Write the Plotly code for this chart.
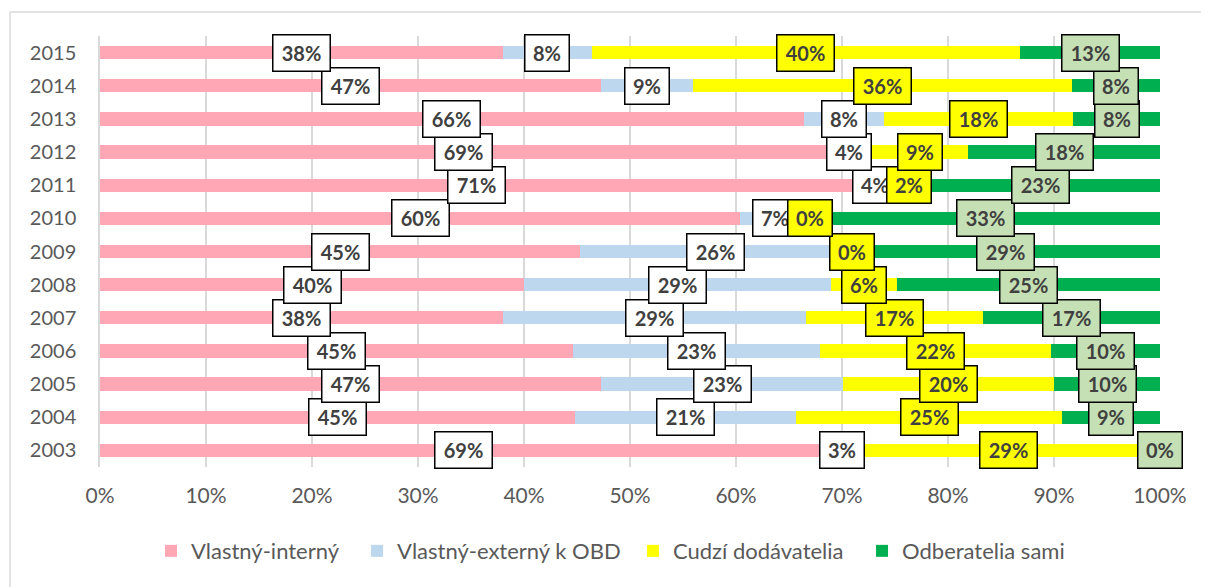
import plotly.graph_objects as go

years = [2003, 2004, 2005, 2006, 2007, 2008, 2009,
         2010, 2011, 2012, 2013, 2014, 2015]

series_names = ["Vlastný-interný", "Vlastný-externý k OBD",
                "Cudzí dodávatelia", "Odberatelia sami"]

vlastny_interny = [68.6, 44.8, 47.3, 44.6, 38.0, 40.0, 45.3, 60.4, 71.0, 68.6, 66.4, 47.3, 38.0]
vlastny_externy = [2.8, 20.9, 22.8, 23.3, 28.6, 29.0, 25.6, 6.6, 4.2, 4.2, 7.6, 8.6, 8.4]
cudzi_dodavatelia = [28.6, 25.1, 19.9, 21.8, 16.7, 6.2, 0.0, 0.0, 2.2, 9.1, 17.8, 35.8, 40.4]
odberatelia_sami = [0.0, 9.2, 10.0, 10.3, 16.7, 24.8, 29.1, 33.0, 22.6, 18.1, 8.2, 8.3, 13.2]

x_ticks = [0, 10, 20, 30, 40, 50, 60, 70, 80, 90, 100]

bar_colors = ["#FFA7B4", "#BDD7EE", "#FFFF00", "#00B050"]
label_bg = ["#FFFFFF", "#FFFFFF", "#FFFF00", "#C5E0B4"]
legend_x = [0.0481, 0.2425, 0.5028, 0.7189]

all_series = [vlastny_interny, vlastny_externy, cudzi_dodavatelia, odberatelia_sami]

FONT = "Lato"
fig = go.Figure()
legend_ids = ["legend", "legend2", "legend3", "legend4"]
for name, vals, col, lid in zip(series_names, all_series, bar_colors, legend_ids):
    fig.add_trace(go.Bar(
        y=years, x=vals, name=name, orientation="h",
        marker=dict(color=col, line=dict(width=0)),
        hoverinfo="skip", legend=lid,
    ))

annotations = []
starts = [0.0] * len(years)
for si, vals in enumerate(all_series):
    for i, v in enumerate(vals):
        center = starts[i] + v / 2
        txt = f"{v:.0f}%"
        annotations.append(dict(
            x=center, y=years[i], xref="x", yref="y",
            text=f"<b>{txt}</b>", showarrow=False,
            font=dict(family=FONT, size=20, color="#404040"),
            bgcolor=label_bg[si], bordercolor="#000000", borderwidth=1.5,
            borderpad=6, width=44 if len(txt) == 3 else 31, height=23,
            xanchor="center", yanchor="middle",
        ))
        starts[i] += v

legend_common = dict(orientation="h", xanchor="left", y=-0.195, yanchor="middle",
                     font=dict(family=FONT, size=22, color="#595959"),
                     itemclick=False, itemdoubleclick=False, borderwidth=0,
                     bgcolor="rgba(0,0,0,0)")

layout_legends = {}
for lid, lx in zip(legend_ids, legend_x):
    layout_legends[lid] = dict(legend_common, x=lx)

fig.update_layout(
    barmode="stack",
    bargap=0.6,
    width=1201, height=579,
    margin=dict(l=92, r=49, t=28, b=120, autoexpand=False),
    paper_bgcolor="white", plot_bgcolor="white",
    font=dict(family=FONT, color="#595959"),
    annotations=annotations,
    showlegend=True,
    shapes=[
        dict(type="line", xref="paper", yref="paper", x0=-0.0849, x1=1.06, y0=1.0557, y1=1.0557,
             line=dict(color="#D9D9D9", width=1.5)),
        dict(type="line", xref="paper", yref="paper", x0=-0.0849, x1=-0.0849, y0=1.0557, y1=-0.32,
             line=dict(color="#D9D9D9", width=1.5)),
    ],
    **layout_legends,
)
fig.update_xaxes(
    range=[0, 100], tickvals=x_ticks, ticktext=[f"{t}%" for t in x_ticks],
    showgrid=True, gridcolor="#D9D9D9", gridwidth=1.5, zeroline=False,
    tickfont=dict(family=FONT, size=21, color="#595959"),
    ticks="", ticklabelstandoff=14, fixedrange=True, automargin=False,
)
fig.update_yaxes(
    type="linear", range=[2002.5, 2015.5], tickvals=years,
    ticktext=[str(y) for y in years],
    showgrid=False, showline=True, linecolor="#D9D9D9", linewidth=1.5, zeroline=False,
    tickfont=dict(family=FONT, size=20, color="#595959"),
    ticks="", ticklabelstandoff=18, fixedrange=True, automargin=False,
)

fig.write_html("out.html")
